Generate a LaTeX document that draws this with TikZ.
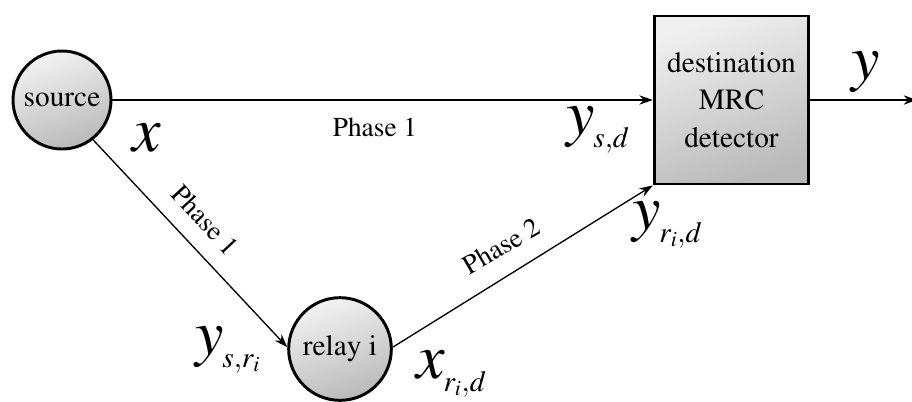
\documentclass[tikz,border=0pt]{standalone}
\usepackage{mathptmx}
\usepackage[no-math]{fontspec}
\setmainfont{Liberation Serif}
\usetikzlibrary{arrows.meta}
\newcommand\tmfont{\fontencoding{OT1}\fontfamily{ptm}\selectfont}
\newcommand\mainlbl[1]{{\fontsize{48}{48}\selectfont$#1$}}
\newcommand\sublbl[1]{\hspace{-1pt}\raisebox{-10pt}{\fontsize{22}{22}\selectfont$#1$}}
\begin{document}
\begin{tikzpicture}[x=0.75pt,y=-0.75pt,
  circ/.style={circle,draw,line width=2.2pt,inner sep=0pt,
    top color=gray!10,bottom color=gray!55,shading angle=20,
    font=\tmfont\fontsize{22}{26}\selectfont},
  dbox/.style={rectangle,draw,line width=2.2pt,inner sep=0pt,
    minimum width=116pt,minimum height=126pt,align=center,
    top color=gray!12,bottom color=gray!55,shading angle=20,
    font=\tmfont\fontsize{22}{28}\selectfont},
  conn/.style={line width=1pt,-{Stealth[length=10pt,width=7pt]}},
  ph/.style={font=\tmfont\fontsize{20.5}{24}\selectfont,inner sep=0pt},
  lbl/.style={inner sep=0pt,anchor=base west}]
\useasboundingbox (0,0) rectangle (912,401);
\node[circ,minimum size=73.5pt] (source) at (62,100) {source};
\node[circ,minimum size=77pt] (relay) at (340,349) {relay i};
\node[dbox] (dest) at (731.5,100) {destination\\MRC\\detector};
\coordinate (out) at (917,100);
\draw[conn] (source) -- (dest);
\draw[conn] (source.-52) -- (relay.178);
\draw[conn] (relay.2) -- (dest.south west);
\draw[conn] (dest.east) -- (out);
\node[ph] (p1) at (375,127) {Phase 1};
\node[ph,rotate=-47] (p1d) at (205,220) {Phase 1};
\node[ph,rotate=30] (p2) at (501,246) {Phase 2};
\node[lbl] (xlab) at (132,151) {\mainlbl{x}};
\node[lbl] (ysd) at (566,134) {\mainlbl{y}\sublbl{s{,}d}};
\node[lbl] (ylab) at (851,79) {\mainlbl{y}};
\node[lbl] (yrid) at (632,229) {\mainlbl{y}\sublbl{r_i{,}d}};
\node[lbl] (ysri) at (195,354) {\mainlbl{y}\sublbl{s{,}r_i}};
\node[lbl] (xrid) at (416,378) {\mainlbl{x}\sublbl{r_i{,}d}};
\end{tikzpicture}
\end{document}
